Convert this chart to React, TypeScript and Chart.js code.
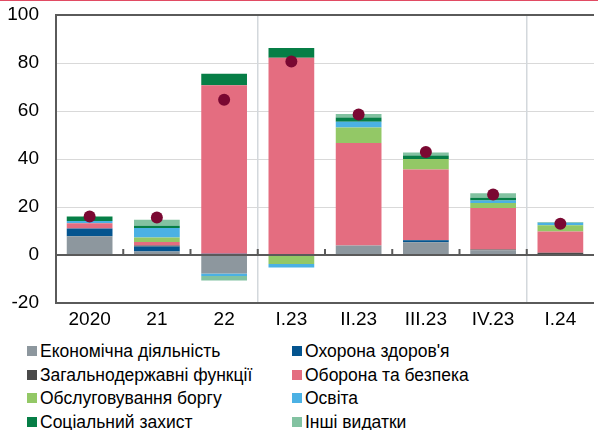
import React, { useEffect, useRef } from "react";
import { Chart, registerables } from "chart.js";

Chart.register(...registerables);

const categories = ["2020", "21", "22", "I.23", "II.23", "III.23", "IV.23", "I.24"];

const economic = [7.8, 1.5, -7.7, 0, 4.0, 5.3, 2.0, 0];
const health = [3.2, 2.0, 0.5, 0, 0, 0.8, 0, 0];
const generalFunctions = [0, 0.5, 0, 0, 0, 0.2, 0.3, 0.9];
const defense = [2.2, 1.4, 70.2, 82.2, 42.7, 29.3, 17.3, 8.9];
const debtService = [0, 1.9, 0, -3.7, 6.4, 4.4, 2.1, 2.6];
const education = [1.0, 3.9, -1.1, -1.5, 2.4, 0, 1.0, 1.0];
const socialProtection = [1.6, 1.0, 4.8, 4.0, 1.8, 1.5, 1.2, 0];
const otherSpending = [0.4, 2.5, -1.8, 0, 1.4, 1.2, 1.8, 0.4];
const totalChange = [16.0, 15.6, 64.7, 80.6, 58.5, 42.9, 25.2, 13.0];

const yTicks = [-20, 0, 20, 40, 60, 80, 100];

const seriesNames = [
  "Економічна діяльність",
  "Охорона здоров'я",
  "Загальнодержавні функції",
  "Оборона та безпека",
  "Обслуговування боргу",
  "Освіта",
  "Соціальний захист",
  "Інші видатки",
];
const seriesColors = [
  "#8D979E",
  "#04548F",
  "#4A4A4A",
  "#E46D80",
  "#93C866",
  "#4BB1E4",
  "#067E46",
  "#82C2A1",
];
const seriesValues = [
  economic,
  health,
  generalFunctions,
  defense,
  debtService,
  education,
  socialProtection,
  otherSpending,
];

const FONT = "'Liberation Sans', Arial, sans-serif";

const framePlugin = {
  id: "frame",
  beforeDatasetsDraw(chart: any) {
    const { ctx, chartArea, scales } = chart;
    const y = scales.y;
    const x = scales.x;
    ctx.save();
    ctx.fillStyle = "#E14B63";
    ctx.fillRect(0, 0, chart.width, 1);
    ctx.strokeStyle = "#D9D9D9";
    ctx.lineWidth = 1;
    [20, 40, 60, 80].forEach((v) => {
      const py = Math.round(y.getPixelForValue(v)) + 0.5;
      ctx.beginPath();
      ctx.moveTo(chartArea.left, py);
      ctx.lineTo(chartArea.right, py);
      ctx.stroke();
    });
    ctx.strokeStyle = "#D3D8DC";
    ctx.lineWidth = 1.5;
    [2, 6].forEach((i) => {
      const px = (x.getPixelForValue(i) + x.getPixelForValue(i + 1)) / 2;
      ctx.beginPath();
      ctx.moveTo(px, chartArea.top);
      ctx.lineTo(px, chartArea.bottom);
      ctx.stroke();
    });
    ctx.restore();
  },
  beforeDatasetDraw(chart: any, args: any) {
    if (args.index !== 8) return;
    const { ctx, chartArea, scales } = chart;
    const y = scales.y;
    const x = scales.x;
    ctx.save();
    ctx.strokeStyle = "#5A5A5A";
    ctx.lineWidth = 2;
    ctx.beginPath();
    ctx.moveTo(chartArea.right, chartArea.top);
    ctx.lineTo(chartArea.left, chartArea.top);
    ctx.lineTo(chartArea.left, chartArea.bottom);
    ctx.lineTo(chartArea.right, chartArea.bottom);
    ctx.stroke();
    const zy = y.getPixelForValue(0);
    ctx.beginPath();
    ctx.moveTo(chartArea.left, zy);
    ctx.lineTo(chartArea.right, zy);
    ctx.stroke();
    for (let i = 0; i < categories.length - 1; i++) {
      const px = (x.getPixelForValue(i) + x.getPixelForValue(i + 1)) / 2;
      ctx.beginPath();
      ctx.moveTo(px, zy);
      ctx.lineTo(px, zy - 6);
      ctx.stroke();
    }
    ctx.restore();
  },
};

export default function App() {
  const canvasRef = useRef<HTMLCanvasElement | null>(null);

  useEffect(() => {
    document.body.style.margin = "0";
    const canvas = canvasRef.current;
    if (!canvas) return;
    const barSets = seriesNames.map((name, i) => ({
      type: "bar" as const,
      label: name,
      data: seriesValues[i],
      backgroundColor: seriesColors[i],
      borderWidth: 0,
      order: 1,
      barPercentage: 1,
      categoryPercentage: 0.68,
    }));
    const chart = new Chart(canvas, {
      type: "bar",
      data: {
        labels: categories,
        datasets: [
          ...barSets,
          {
            type: "line" as const,
            label: "Разом",
            data: totalChange,
            showLine: false,
            pointRadius: 6,
            pointHoverRadius: 6,
            pointBackgroundColor: "#7A0832",
            pointBorderWidth: 0,
            borderColor: "#7A0832",
            order: 0,
            clip: false,
          } as any,
        ],
      },
      options: {
        animation: false,
        responsive: false,
        maintainAspectRatio: false,
        layout: { padding: { top: 15, left: 0, right: 0, bottom: 0 } },
        plugins: {
          legend: { display: false },
          tooltip: { enabled: false },
        },
        scales: {
          x: {
            stacked: true,
            grid: { display: false, drawTicks: false },
            border: { display: false },
            ticks: {
              color: "#000",
              padding: 5,
              font: { family: FONT, size: 19 },
              maxRotation: 0,
              autoSkip: false,
            },
            afterFit(scale: any) {
              scale.height = 27;
              scale.paddingLeft = 0;
              scale.paddingRight = 0;
            },
          },
          y: {
            stacked: true,
            min: -20,
            max: 100,
            afterBuildTicks(scale: any) {
              scale.ticks = yTicks.map((v) => ({ value: v }));
            },
            grid: { display: false, drawTicks: false },
            border: { display: false },
            ticks: {
              color: "#000",
              padding: 17,
              font: { family: FONT, size: 19 },
            },
            afterFit(scale: any) {
              scale.width = 56;
              scale.paddingTop = 12;
              scale.paddingBottom = 0;
            },
          },
        },
      },
      plugins: [framePlugin],
    });
    return () => chart.destroy();
  }, []);

  const legendItem = (i: number) => {
    const col = i % 2;
    const row = Math.floor(i / 2);
    const center = 351 + row * 23.7;
    return (
      <div
        key={i}
        style={{
          position: "absolute",
          left: col === 0 ? 27 : 292,
          top: center - 12,
          height: 24,
          display: "flex",
          alignItems: "center",
          whiteSpace: "nowrap",
        }}
      >
        <span
          style={{
            display: "inline-block",
            width: 10,
            height: 10,
            background: seriesColors[i],
            marginRight: 3,
          }}
        />
        <span style={{ fontFamily: FONT, fontSize: 17.5, color: "#000", lineHeight: "24px" }}>
          {seriesNames[i]}
        </span>
      </div>
    );
  };

  return (
    <div style={{ position: "relative", width: 598, height: 430, background: "#fff", overflow: "hidden" }}>
      <canvas ref={canvasRef} width={600} height={330} style={{ display: "block", width: 600, height: 330 }} />
      {seriesNames.map((_, i) => legendItem(i))}
    </div>
  );
}
